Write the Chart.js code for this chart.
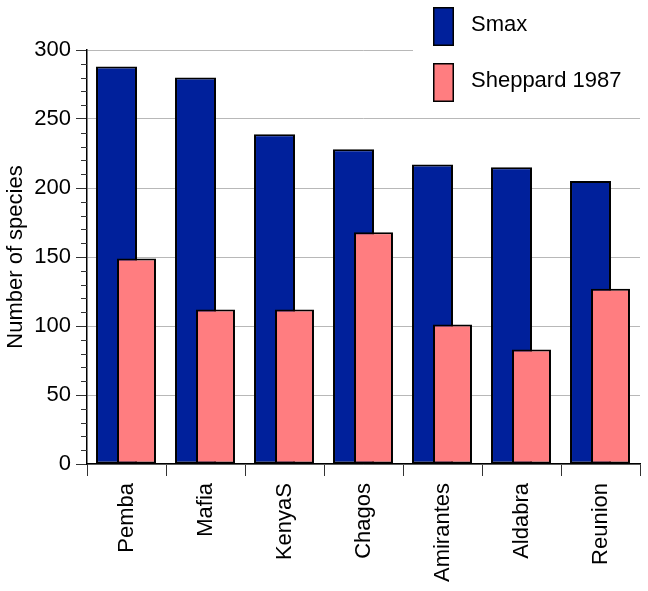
<!DOCTYPE html>
<html>
<head>
<meta charset="utf-8">
<script src="https://cdn.jsdelivr.net/npm/chart.js@4/dist/chart.umd.min.js"></script>
<style>
  html, body { margin: 0; padding: 0; background: #fff; }
  #wrap { width: 648px; height: 591px; position: relative; }
</style>
</head>
<body>
<div id="wrap"><canvas id="c" width="648" height="591"></canvas></div>
<script>
const categories = ["Pemba", "Mafia", "KenyaS", "Chagos", "Amirantes", "Aldabra", "Reunion"];
const smaxValues = [288, 280, 239, 228, 217, 215, 205];
const sheppardValues = [149, 112, 112, 168, 101, 83, 127];
const yTicks = [0, 50, 100, 150, 200, 250, 300];
const minorStep = 10;

const FONT = "'Liberation Sans', Arial, Helvetica, sans-serif";

// Draw the second series on top of the first (Chart.js normally paints index 0 last)
const frontSeries = {
  id: 'frontSeries',
  beforeDatasetDraw(chart, args) {
    if (args.index === 1 && !chart.$drawingFront) return false;
  },
  afterDatasetsDraw(chart) {
    chart.$drawingFront = true;
    const meta = chart.getDatasetMeta(1);
    const area = chart.chartArea;
    const ctx = chart.ctx;
    ctx.save();
    ctx.beginPath();
    ctx.rect(area.left - 2, area.top - 40, area.right - area.left + 4, area.bottom - area.top + 42);
    ctx.clip();
    meta.controller.draw();
    ctx.restore();
    chart.$drawingFront = false;
  }
};

const minorTicks = {
  id: 'minorTicks',
  afterDraw(chart) {
    const y = chart.scales.y;
    const ctx = chart.ctx;
    const x0 = chart.chartArea.left;
    ctx.save();
    ctx.strokeStyle = '#333';
    ctx.lineWidth = 1;
    for (let v = y.min; v <= y.max; v += minorStep) {
      if (yTicks.includes(v)) continue;
      const py = Math.round(y.getPixelForValue(v)) + 0.5;
      ctx.beginPath();
      ctx.moveTo(x0 - 6, py);
      ctx.lineTo(x0, py);
      ctx.stroke();
    }
    ctx.restore();
  }
};

const boxLegend = {
  id: 'boxLegend',
  afterDraw(chart) {
    const ctx = chart.ctx;
    ctx.save();
    ctx.fillStyle = '#fff';
    ctx.fillRect(413, 0, 235, 112);
    const items = chart.data.datasets;
    const rows = [{ by: 7, ty: 31 }, { by: 63, ty: 87 }];
    items.forEach((ds, i) => {
      const r = rows[i];
      ctx.fillStyle = ds.backgroundColor;
      ctx.fillRect(433, r.by, 21, 39);
      ctx.strokeStyle = '#000';
      ctx.lineWidth = 1.5;
      ctx.strokeRect(433.75, r.by + 0.75, 19.5, 37.5);
      ctx.fillStyle = '#000';
      ctx.font = '22px ' + FONT;
      ctx.textBaseline = 'alphabetic';
      ctx.textAlign = 'left';
      ctx.fillText(ds.label, 471, r.ty);
    });
    ctx.restore();
  }
};

new Chart(document.getElementById('c'), {
  type: 'bar',
  data: {
    labels: categories,
    datasets: [
      {
        label: 'Smax',
        data: smaxValues,
        backgroundColor: '#00209b',
        borderColor: '#000',
        borderWidth: 2,
        borderSkipped: false,
        categoryPercentage: 0.506,
        barPercentage: 2.05
      },
      {
        label: 'Sheppard 1987',
        data: sheppardValues,
        backgroundColor: '#ff7d80',
        borderColor: '#000',
        borderWidth: 2,
        borderSkipped: false,
        categoryPercentage: 0.506,
        barPercentage: 1.95
      }
    ]
  },
  options: {
    responsive: false,
    animation: false,
    devicePixelRatio: 1,
    layout: { padding: { top: 50, right: 8, left: 0, bottom: 0 } },
    plugins: {
      legend: { display: false },
      tooltip: { enabled: false }
    },
    scales: {
      x: {
        offset: true,
        grid: {
          offset: true,
          drawOnChartArea: false,
          drawTicks: true,
          tickLength: 12,
          tickColor: '#333',
          tickWidth: 1
        },
        border: { color: '#000', width: 1.5 },
        ticks: {
          color: '#000',
          font: { family: FONT, size: 22 },
          minRotation: 90,
          maxRotation: 90,
          padding: 7,
          autoSkip: false
        },
        afterFit(scale) { scale.height = 127; }
      },
      y: {
        min: 0,
        max: 300,
        afterBuildTicks(scale) { scale.ticks = yTicks.map(v => ({ value: v })); },
        grid: {
          color: '#b8b8b8',
          lineWidth: 1,
          tickLength: 11,
          tickColor: '#333',
          tickWidth: 1
        },
        border: { color: '#000', width: 1.5 },
        ticks: {
          color: '#000',
          font: { family: FONT, size: 22 },
          padding: 5
        },
        title: {
          display: true,
          text: 'Number of species',
          color: '#000',
          font: { family: FONT, size: 22 },
          padding: { top: 3, bottom: 0 }
        },
        afterFit(scale) { scale.width = 87; }
      }
    }
  },
  plugins: [frontSeries, minorTicks, boxLegend]
});
</script>
</body>
</html>
